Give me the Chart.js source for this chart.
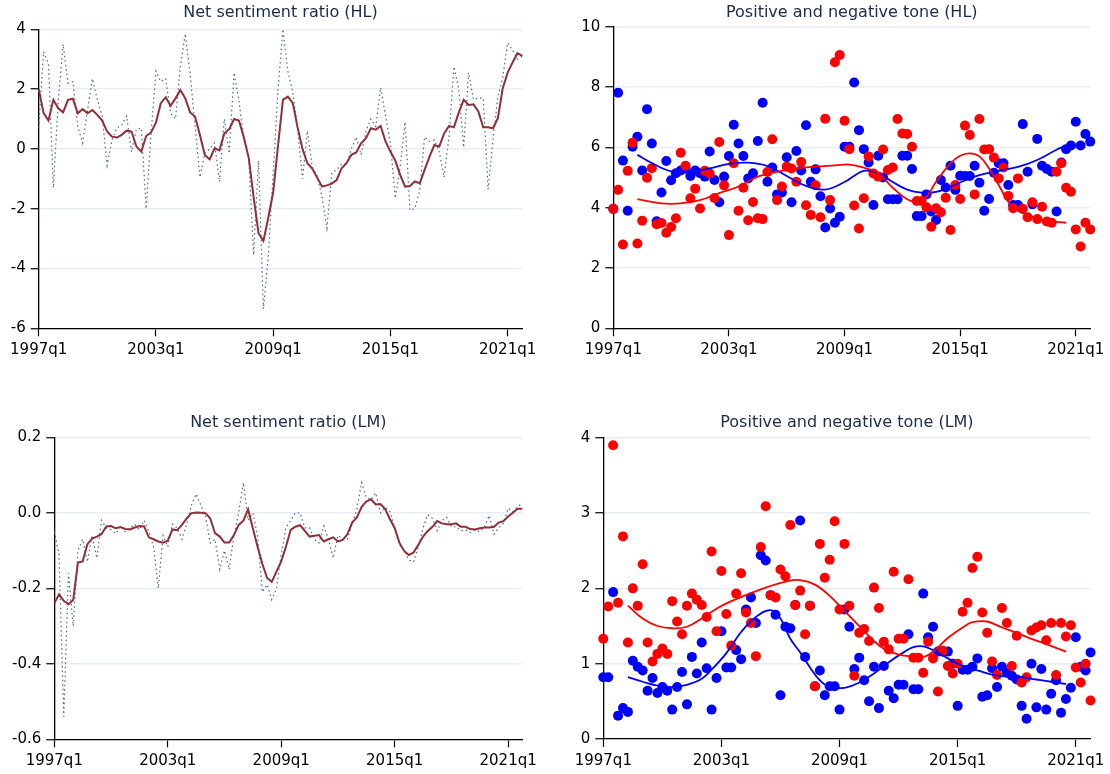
<!DOCTYPE html>
<html>
<head>
<meta charset="utf-8">
<script src="https://cdn.jsdelivr.net/npm/chart.js@4.4.1/dist/chart.umd.min.js"></script>
<style>
    body { margin: 0; background: #fff; width: 1110px; height: 774px; position: relative; overflow: hidden; }
    canvas { position: absolute; }
</style>
</head>
<body>
<canvas id="hl-net" width="555" height="370" style="left:0;top:0"></canvas>
<canvas id="hl-tone" width="555" height="370" style="left:555px;top:0"></canvas>
<canvas id="lm-net" width="555" height="374" style="left:0;top:400px"></canvas>
<canvas id="lm-tone" width="555" height="374" style="left:555px;top:400px"></canvas>
<script>
// quarters 1997q1 .. 2021q4
var quarters = [];
for (var y = 1997; y <= 2021; y++) {
    for (var q = 1; q <= 4; q++) {
        quarters.push(y + 'q' + q);
    }
}
var tickLabels = ['1997q1', '2003q1', '2009q1', '2015q1', '2021q1'];

// net sentiment ratio (HL): quarterly and smoothed
var hlNet = [0.7, 3.25, 2.85, -1.3, 1.6, 3.5, 2.2, 2.25, 0.75, 0.2,
    1.3, 2.35, 1.65, 1.1, -0.55, 0.3, 0.7, 0.8, 1.1, -0.1,
    0.65, 0.7, -2.0, 0.5, 2.6, 2.25, 2.35, 1.2, 1.0, 2.75,
    3.85, 2.5, 0.8, -0.95, -0.15, 0.0, 0.2, -1.1, 1.0, -0.15,
    2.55, 1.6, 0.3, -0.3, -3.55, -0.4, -5.35, -3.6, -0.8, 2.0,
    4.0, 2.6, 1.9, 0.7, -1.0, 0.6, -0.6, -0.9, -1.6, -2.65,
    -0.8, -0.7, -0.5, -0.5, 0.0, 0.4, -0.2, 0.6, 1.0, 0.75,
    2.05, 1.1, 0.2, -1.65, -0.6, 0.9, -2.05, -2.0, -1.4, 0.4,
    0.25, 0.3, -0.1, -0.95, 0.4, 2.75, 2.0, 0.05, 2.55, 1.65,
    1.7, 1.7, -1.35, 0.3, 1.75, 2.4, 3.55, 3.3, 3.0, 3.1];
var hlNetSmooth = [2.0, 1.2, 0.95, 1.64, 1.36, 1.22, 1.64, 1.68, 1.19, 1.33,
    1.19, 1.3, 1.14, 0.95, 0.58, 0.41, 0.38, 0.47, 0.61, 0.58,
    0.08, -0.09, 0.43, 0.55, 0.88, 1.53, 1.73, 1.44, 1.69, 1.97,
    1.69, 1.22, 1.08, 0.47, -0.2, -0.35, 0.02, -0.05, 0.52, 0.66,
    1.0, 0.95, 0.38, -0.3, -1.62, -2.82, -3.08, -2.3, -1.45, 0.12,
    1.64, 1.75, 1.54, 0.72, 0.0, -0.48, -0.66, -0.96, -1.26, -1.22,
    -1.16, -1.04, -0.65, -0.48, -0.2, -0.12, 0.19, 0.36, 0.69, 0.64,
    0.77, 0.25, -0.09, -0.39, -0.87, -1.26, -1.24, -1.09, -1.15, -0.7,
    -0.26, 0.13, 0.08, 0.52, 0.77, 0.72, 1.22, 1.64, 1.47, 1.49,
    1.25, 0.72, 0.72, 0.69, 1.03, 2.03, 2.55, 2.89, 3.2, 3.11];

// positive and negative tone (HL)
var hlPos = [3.96, 7.81, 5.56, 3.9, 6.02, 6.35, 5.23, 7.26, 6.13, 3.55,
    4.5, 5.55, 4.91, 5.14, 5.23, 5.3, 5.05, 5.23, 5.14, 5.03,
    5.86, 4.92, 4.18, 5.03, 5.71, 6.75, 6.13, 5.71, 4.97, 5.14,
    6.21, 7.48, 4.86, 5.33, 4.44, 4.5, 5.67, 4.18, 5.88, 5.23,
    6.73, 4.86, 5.27, 4.38, 3.34, 3.97, 3.5, 3.7, 6.02, 6.02,
    8.15, 6.57, 5.94, 5.5, 4.09, 5.72, 5.0, 4.28, 4.28, 4.28,
    5.72, 5.72, 5.28, 3.72, 3.72, 4.44, 3.87, 3.59, 4.92, 4.67,
    5.39, 4.59, 5.06, 5.05, 5.05, 5.39, 4.83, 3.9, 4.29, 5.16,
    5.47, 5.47, 4.75, 4.09, 4.09, 6.77, 5.19, 4.11, 6.28, 5.39,
    5.28, 5.19, 3.87, 5.5, 5.94, 6.06, 6.85, 6.06, 6.44, 6.19];
var hlNeg = [3.96, 4.59, 2.78, 5.22, 6.15, 2.81, 3.57, 4.99, 5.31, 3.45,
    3.49, 3.17, 3.36, 3.65, 5.82, 5.39, 4.31, 4.63, 3.97, 5.22,
    5.13, 4.32, 6.18, 4.74, 3.09, 5.47, 3.9, 4.66, 3.58, 4.19,
    3.65, 3.62, 5.18, 6.27, 4.25, 4.7, 5.36, 5.3, 4.86, 5.51,
    4.08, 3.76, 4.74, 3.68, 6.95, 4.25, 8.82, 9.06, 6.88, 5.94,
    4.07, 3.31, 4.31, 5.7, 5.13, 5.03, 5.93, 5.25, 5.33, 6.94,
    6.46, 6.44, 6.02, 4.22, 4.22, 4.01, 3.37, 3.98, 3.85, 4.33,
    3.26, 4.75, 4.29, 6.72, 6.41, 4.44, 6.94, 5.93, 5.94, 5.66,
    4.97, 5.33, 4.39, 3.98, 4.97, 3.96, 3.68, 4.18, 3.62, 4.03,
    3.54, 3.5, 5.19, 5.47, 4.66, 4.53, 3.28, 2.71, 3.5, 3.28];
// smoothed fits: [quarter index, value]
var hlPosFit = [[5, 5.75], [8, 5.48], [12, 5.2], [16, 5.18], [20, 5.3], [24, 5.45], [28, 5.49], [32, 5.38],
    [36, 5.05], [40, 4.72], [44, 4.6], [48, 4.85], [52, 5.22], [55, 5.14], [58, 4.85], [61, 4.6],
    [64, 4.5], [67, 4.52], [70, 4.7], [73, 4.9], [76, 5.08], [80, 5.22], [84, 5.35], [88, 5.58],
    [92, 5.92], [94, 6.05]];
var hlNegFit = [[5, 4.28], [10, 4.14], [14, 4.14], [18, 4.25], [22, 4.48], [26, 4.7], [30, 5.03], [34, 5.19],
    [38, 5.3], [42, 5.36], [46, 5.4], [49, 5.43], [52, 5.33], [55, 5.14], [58, 4.66], [61, 4.28],
    [63, 4.2], [65, 4.36], [67, 4.86], [70, 5.47], [72, 5.72], [74, 5.8], [76, 5.7], [78, 5.3],
    [80, 4.75], [82, 4.2], [84, 3.9], [87, 3.7], [90, 3.57], [94, 3.5]];

// net sentiment ratio (LM): quarterly and smoothed
var lmNet = [-0.05, -0.11, -0.54, -0.16, -0.3, -0.1, -0.07, -0.13, -0.06, -0.12,
    -0.02, -0.04, -0.045, -0.055, -0.035, -0.05, -0.04, -0.03, -0.045, -0.02,
    -0.05, -0.09, -0.2, -0.06, -0.09, -0.03, -0.04, -0.07, -0.03, 0.02,
    0.05, 0.02, -0.01, -0.08, -0.07, -0.15, -0.1, -0.15, -0.06, 0.0,
    0.08, -0.02, 0.0, -0.06, -0.21, -0.19, -0.23, -0.2, -0.11, -0.04,
    -0.02, 0.0, 0.0, -0.04, -0.04, -0.07, -0.08, -0.035, -0.07, -0.12,
    -0.06, -0.07, -0.07, -0.03, 0.01, 0.08, 0.04, 0.035, 0.053, 0.0,
    0.015, 0.003, -0.04, -0.085, -0.1, -0.125, -0.13, -0.09, -0.04, -0.005,
    -0.015, -0.048, -0.02, -0.012, -0.037, -0.037, -0.048, -0.045, -0.052, -0.045,
    -0.05, -0.037, -0.007, -0.057, -0.04, -0.028, 0.012, 0.003, 0.016, 0.025];
var lmNetSmooth = [-0.24, -0.216, -0.233, -0.242, -0.231, -0.132, -0.129, -0.083, -0.068, -0.063,
    -0.056, -0.036, -0.035, -0.041, -0.038, -0.043, -0.044, -0.039, -0.035, -0.036,
    -0.065, -0.07, -0.076, -0.079, -0.074, -0.044, -0.046, -0.032, -0.015, -0.001,
    0.001, 0.0, -0.001, -0.015, -0.054, -0.063, -0.079, -0.079, -0.059, -0.032,
    -0.021, 0.009, -0.041, -0.09, -0.135, -0.172, -0.183, -0.156, -0.129, -0.09,
    -0.045, -0.037, -0.033, -0.048, -0.063, -0.061, -0.059, -0.076, -0.07, -0.065,
    -0.076, -0.072, -0.057, -0.026, -0.012, 0.015, 0.03, 0.036, 0.022, 0.023,
    0.01, -0.017, -0.04, -0.079, -0.101, -0.112, -0.105, -0.085, -0.063, -0.048,
    -0.037, -0.022, -0.028, -0.03, -0.03, -0.028, -0.037, -0.037, -0.043, -0.044,
    -0.041, -0.039, -0.039, -0.037, -0.026, -0.022, -0.01, 0.0, 0.011, 0.011];

// positive and negative tone (LM)
var lmPos = [0.82, 0.82, 1.95, 0.31, 0.41, 0.36, 1.04, 0.96, 0.91, 0.64,
    0.81, 0.61, 0.69, 0.64, 0.39, 0.69, 0.89, 0.46, 1.09, 0.87,
    1.28, 0.94, 0.39, 0.81, 1.43, 0.95, 0.95, 1.18, 1.06, 1.72,
    1.88, 1.54, 2.44, 2.37, 1.91, 1.65, 0.58, 1.49, 1.47, 1.78,
    2.9, 1.09, 1.77, 0.7, 0.91, 0.58, 0.7, 0.7, 0.39, 1.72,
    1.49, 0.93, 1.08, 0.78, 0.5, 0.96, 0.41, 0.97, 0.64, 0.54,
    0.72, 0.72, 1.39, 0.66, 0.66, 1.93, 1.35, 1.49, 1.16, 1.16,
    1.16, 1.0, 0.44, 0.92, 0.92, 0.96, 1.07, 0.56, 0.58, 0.94,
    0.69, 0.96, 0.88, 0.84, 0.79, 0.44, 0.27, 1.0, 0.42, 0.93,
    0.39, 0.6, 0.78, 0.35, 0.53, 0.68, 1.35, 0.96, 0.91, 1.15];
var lmNeg = [1.33, 1.76, 3.9, 1.81, 2.69, 1.28, 2.0, 1.77, 2.32, 1.28,
    1.03, 1.13, 1.2, 1.13, 1.83, 1.56, 1.39, 1.77, 1.93, 1.85,
    1.78, 1.62, 2.49, 1.43, 2.23, 1.66, 1.24, 1.93, 2.2, 1.68,
    1.54, 1.1, 2.55, 3.09, 1.91, 1.88, 2.25, 2.16, 2.84, 1.78,
    1.97, 1.39, 1.77, 0.7, 2.59, 2.14, 2.38, 2.89, 1.72, 2.59,
    1.77, 0.84, 1.41, 1.46, 1.3, 2.01, 1.74, 1.29, 1.19, 2.22,
    1.33, 1.33, 2.12, 1.08, 1.08, 0.88, 1.29, 1.07, 0.63, 1.17,
    0.97, 0.87, 1.0, 1.69, 1.81, 2.27, 2.42, 1.68, 1.41, 1.03,
    0.85, 1.74, 1.54, 0.97, 1.37, 0.75, 0.82, 1.44, 1.48, 1.51,
    1.31, 1.54, 0.85, 1.54, 1.36, 1.51, 0.95, 0.75, 1.0, 0.51];
var lmPosFit = [[5, 0.82], [8, 0.76], [11, 0.71], [14, 0.69], [17, 0.72], [20, 0.8], [22, 0.92], [25, 1.14],
    [28, 1.42], [31, 1.62], [34, 1.71], [36, 1.6], [38, 1.33], [40, 1.15], [42, 0.95], [44, 0.78],
    [46, 0.69], [49, 0.68], [52, 0.75], [55, 0.87], [58, 1.02], [61, 1.15], [63, 1.22], [65, 1.23],
    [67, 1.18], [70, 1.07], [73, 0.97], [76, 0.91], [80, 0.84], [84, 0.83], [88, 0.79], [91, 0.76],
    [94, 0.73]];
var lmNegFit = [[5, 1.77], [8, 1.6], [11, 1.5], [14, 1.47], [17, 1.49], [20, 1.6], [22, 1.69], [25, 1.8],
    [29, 1.91], [33, 2.01], [37, 2.09], [40, 2.11], [43, 2.05], [46, 1.9], [49, 1.7], [52, 1.5],
    [55, 1.3], [57, 1.2], [60, 1.12], [62, 1.1], [65, 1.09], [67, 1.16], [70, 1.34], [73, 1.48],
    [75, 1.55], [78, 1.56], [81, 1.48], [84, 1.41], [87, 1.33], [90, 1.26], [94, 1.16]];

// FUNCTIONS

function opzioni(titolo, box) {
    return {
        responsive: false,
        animation: false,
        devicePixelRatio: 1,
        events: [],
        layout: { padding: { left: 0, right: box.padRight, top: 0, bottom: 0 } },
        plugins: {
            legend: { display: false },
            tooltip: { enabled: false },
            title: {
                display: true,
                text: titolo,
                fullSize: false,
                color: '#1b2b4d',
                font: { family: 'DejaVu Sans', size: 16, weight: 'normal', lineHeight: 1.2 },
                padding: { top: box.titleTop, bottom: box.titleBottom }
            }
        },
        scales: {
            x: {
                type: 'category',
                afterBuildTicks: function (s) {
                    s.ticks = s.ticks.filter(function (t) {
                        return tickLabels.indexOf(quarters[t.value]) > -1;
                    });
                },
                afterFit: function (s) { s.height = box.xHeight; },
                ticks: { autoSkip: false, maxRotation: 0, padding: 5, color: '#000',
                    font: { family: 'DejaVu Sans', size: 15 } },
                grid: { drawOnChartArea: false, tickLength: 8, tickColor: '#000', tickWidth: 1.2 },
                border: { color: '#000', width: 1.3 }
            },
            y: {
                min: box.min,
                max: box.max,
                afterFit: function (s) { s.width = box.yWidth; },
                ticks: {
                    stepSize: box.step,
                    padding: 5,
                    color: '#000',
                    font: { family: 'DejaVu Sans', size: 15 },
                    callback: function (v) {
                        if (Math.abs(v) < 1e-9) v = 0;
                        return v.toFixed(box.decimals);
                    }
                },
                grid: { color: '#e8eef3', lineWidth: 1.5, tickLength: 8, tickColor: '#000', tickWidth: 1.2 },
                border: { color: '#000', width: 1.3 }
            }
        }
    };
}

function fitPunti(fit) {
    return fit.map(function (p) { return { x: quarters[p[0]], y: p[1] }; });
}

// chart.js paints the first dataset last, so the top layer comes first
function graficoNetto(id, titolo, raw, smooth, box) {
    var ctx = document.getElementById(id);
    new Chart(ctx, {
        type: 'line',
        data: {
            labels: quarters,
            datasets: [{
                data: smooth,
                borderColor: '#8f3038',
                borderWidth: 2,
                pointRadius: 0,
                tension: 0
            },
            {
                data: raw,
                borderColor: '#4a6890',
                borderWidth: 1.2,
                borderDash: [1.5, 3],
                pointRadius: 0,
                tension: 0
            }]
        },
        options: opzioni(titolo, box)
    });
}

function graficoTono(id, titolo, pos, neg, posFit, negFit, box) {
    var ctx = document.getElementById(id);
    new Chart(ctx, {
        type: 'line',
        data: {
            labels: quarters,
            datasets: [{
                data: fitPunti(negFit),
                borderColor: '#ff0000',
                borderWidth: 1.8,
                pointRadius: 0,
                tension: 0.4
            },
            {
                data: fitPunti(posFit),
                borderColor: '#0000ff',
                borderWidth: 1.8,
                pointRadius: 0,
                tension: 0.4
            },
            {
                data: neg,
                showLine: false,
                pointRadius: 5,
                pointBorderWidth: 0,
                pointBackgroundColor: '#ff0000',
                clip: false
            },
            {
                data: pos,
                showLine: false,
                pointRadius: 5,
                pointBorderWidth: 0,
                pointBackgroundColor: '#0000ff',
                clip: false
            }]
        },
        options: opzioni(titolo, box)
    });
}

graficoNetto('hl-net', 'Net sentiment ratio (HL)', hlNet, hlNetSmooth,
    { yWidth: 38.7, padRight: 32.7, titleTop: 3.5, titleBottom: 6.6, xHeight: 41.7, min: -6, max: 4, step: 2, decimals: 0 });
graficoTono('hl-tone', 'Positive and negative tone (HL)', hlPos, hlNeg, hlPosFit, hlNegFit,
    { yWidth: 58.3, padRight: 16.7, titleTop: 3.5, titleBottom: 4, xHeight: 41.7, min: 0, max: 10, step: 2, decimals: 0 });
graficoNetto('lm-net', 'Net sentiment ratio (LM)', lmNet, lmNetSmooth,
    { yWidth: 54.3, padRight: 32.7, titleTop: 13.4, titleBottom: 4.7, xHeight: 34.7, min: -0.6, max: 0.2, step: 0.2, decimals: 1 });
graficoTono('lm-tone', 'Positive and negative tone (LM)', lmPos, lmNeg, lmPosFit, lmNegFit,
    { yWidth: 48.3, padRight: 16.7, titleTop: 13.4, titleBottom: 5.1, xHeight: 35, min: 0, max: 4, step: 1, decimals: 0 });
</script>
</body>
</html>
